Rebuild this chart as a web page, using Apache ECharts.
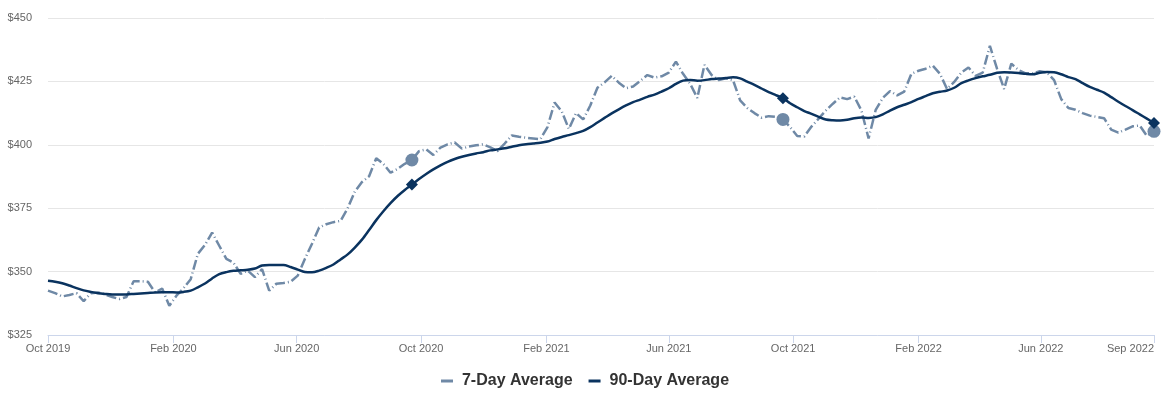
<!DOCTYPE html>
<html>
<head>
<meta charset="utf-8">
<script src="https://cdn.jsdelivr.net/npm/echarts@6/dist/echarts.min.js"></script>
<style>
  html, body { margin: 0; padding: 0; background: #fff; }
  #chart { width: 1170px; height: 397px; }
</style>
</head>
<body>
<div id="chart"></div>
<script>
// weekly readings, first week starts Oct 1 2019
const startDate = [2019, 9, 1];

const avg7 = [
  342.5, 341.5, 340.2, 340.8, 341.5, 338.3, 341.5, 341.8, 341, 340,
  339.2, 340, 346.2, 346.2, 346, 341.8, 343.3, 336.5, 340.5, 343.5,
  347, 357, 360.5, 365.4, 360.2, 355, 353.5, 349.1, 350.4, 347.8,
  351, 342.5, 345.2, 345.5, 346, 348.4, 355, 361, 367.4, 368.7,
  369.5, 370, 375, 381.5, 385.3, 387.6, 394.7, 392.5, 389, 390.5,
  392.5, 394, 397.5, 398.2, 396, 398.9, 400.2, 400.9, 398.5, 399.3,
  399.8, 400.2, 399, 397.5, 400.5, 403.7, 403.2, 402.8, 402.5, 402.2,
  407, 416.7, 413.2, 406.2, 412.5, 410, 415.5, 422.5, 424.6, 427.2,
  424.5, 422.3, 423, 425.2, 427.5, 426.5, 427, 428.5, 432.8, 428,
  424, 418.5, 431.5, 427.5, 425.5, 426.2, 425.5, 417.5, 414.5, 412.5,
  410.7, 411.3, 411, 410, 407, 403.5, 403.3, 407.2, 410.3, 413.5,
  416.2, 418.7, 418, 419, 413.5, 402.5, 413.8, 418.5, 421.2, 419.5,
  421, 428, 429.2, 430, 431.2, 428, 422, 424.8, 428.5, 430.5,
  427.2, 428.5, 439, 430, 422, 432, 429.5, 428.2, 428.2, 429,
  428.5, 425.5, 418, 414.5, 413.8, 412.5, 411.5, 411, 410.5, 406,
  404.8, 406, 407.3, 407.6, 403.5, 405.3
];

const avg90 = [
  346.4, 346, 345.4, 344.5, 343.5, 342.6, 342, 341.5, 341.2, 341,
  341, 341, 341.2, 341.4, 341.6, 341.8, 341.9, 341.9, 341.8, 342,
  342.5, 343.8, 345.3, 347.3, 349, 349.8, 350.3, 350.5, 350.7, 351.2,
  352.4, 352.6, 352.6, 352.6, 351.8, 350.8, 349.8, 349.7, 350.4, 351.5,
  352.8, 354.8, 356.8, 359.5, 362.6, 366.4, 370.3, 373.8, 377, 379.8,
  382.2, 384.3, 386.5, 388.5, 390.3, 391.9, 393.3, 394.4, 395.3, 396,
  396.6, 397.1, 397.8, 398.2, 398.6, 399.2, 399.8, 400.2, 400.5, 400.8,
  401.3, 402.3, 403.1, 403.8, 404.6, 405.5, 407, 408.8, 410.6, 412.4,
  414, 415.5, 416.8, 417.8, 418.9, 419.8, 421, 422.3, 424, 425.3,
  425.6, 425.3, 425.5, 425.9, 426.1, 426.3, 426.6, 426.2, 424.9, 423.6,
  422.2, 420.8, 419.6, 418.4, 416.4, 414.8, 413.3, 412.2, 411, 410,
  409.7, 409.6, 409.9, 410.5, 410.8, 410.6, 410.9, 412, 413.5, 414.8,
  415.8, 416.8, 418.1, 419.2, 420.3, 420.9, 421.4, 422.5, 424.3, 425.4,
  426.3, 427, 427.6, 428.4, 428.6, 428.5, 428.3, 428, 427.8, 428.4,
  428.7, 428.6, 427.8, 426.7, 425.9, 424.3, 422.8, 421.7, 420.6, 418.8,
  417, 415.3, 413.7, 412, 410.3, 408.6
];

// same week in each year gets a marker
const markerWeeks = [51, 103, 155];

const tickLabels = ['Oct 2019', 'Feb 2020', 'Jun 2020', 'Oct 2020', 'Feb 2021',
  'Jun 2021', 'Oct 2021', 'Feb 2022', 'Jun 2022', 'Sep 2022'];
const tickDates = [[2019, 9, 1], [2020, 1, 1], [2020, 5, 1], [2020, 9, 1], [2021, 1, 1],
  [2021, 5, 1], [2021, 9, 1], [2022, 1, 1], [2022, 5, 1], null];

const weeks = avg7.map((v, i) => new Date(startDate[0], startDate[1], startDate[2] + i * 7).getTime());
const lastWeek = weeks[weeks.length - 1];
const tickValues = tickDates.map(d => d ? new Date(d[0], d[1], d[2]).getTime() : lastWeek);

const lightColor = '#6f89a6';
const darkColor = '#0a335f';

const labelFor = (value) => {
  const idx = tickValues.indexOf(value);
  return idx >= 0 ? tickLabels[idx] : '';
};

const getOption = () => {
  return {
    animation: false,
    grid: { left: 48, right: 16, top: 18, bottom: 62 },
    legend: {
      top: 368,
      left: 'center',
      itemWidth: 12,
      itemHeight: 3,
      itemGap: 16,
      icon: 'rect',
      data: ['7-Day Average', '90-Day Average'],
      textStyle: {
        fontFamily: 'Liberation Sans, Arial, sans-serif',
        fontSize: 16,
        fontWeight: 'bold',
        color: '#333',
        padding: [0, 0, 0, 4]
      }
    },
    xAxis: {
      type: 'value',
      min: weeks[0],
      max: lastWeek,
      axisLine: { lineStyle: { color: '#ccd6eb', width: 1 } },
      axisTick: { show: true, length: 8, lineStyle: { color: '#ccd6eb' }, customValues: tickValues },
      splitLine: { show: false },
      axisLabel: {
        customValues: tickValues,
        formatter: labelFor,
        color: '#666',
        fontSize: 11,
        fontFamily: 'Liberation Sans, Arial, sans-serif',
        margin: 8,
        alignMaxLabel: 'right',
        hideOverlap: false
      }
    },
    yAxis: {
      type: 'value',
      min: 325,
      max: 450,
      interval: 25,
      axisLine: { show: false },
      axisTick: { show: false },
      splitLine: { lineStyle: { color: '#e6e6e6' } },
      axisLabel: {
        formatter: v => '$' + v,
        color: '#666',
        fontSize: 11,
        fontFamily: 'Liberation Sans, Arial, sans-serif',
        margin: 16
      }
    },
    series: [
      {
        name: '7-Day Average',
        type: 'line',
        data: avg7.map((v, i) => [weeks[i], v]),
        symbol: 'none',
        itemStyle: { color: lightColor },
        lineStyle: { color: lightColor, width: 2.5, type: [10, 3, 1, 3] },
        z: 2
      },
      {
        name: '90-Day Average',
        type: 'line',
        data: avg90.map((v, i) => [weeks[i], v]),
        symbol: 'none',
        smooth: 0.3,
        itemStyle: { color: darkColor },
        lineStyle: { color: darkColor, width: 2.5 },
        z: 3
      },
      {
        name: '7-Day Marker',
        type: 'scatter',
        data: markerWeeks.map(i => [weeks[i], avg7[i]]),
        symbol: 'circle',
        symbolSize: 13,
        itemStyle: { color: lightColor, opacity: 1 },
        z: 4
      },
      {
        name: '90-Day Marker',
        type: 'scatter',
        data: markerWeeks.map(i => [weeks[i], avg90[i]]),
        symbol: 'diamond',
        symbolSize: 12,
        itemStyle: { color: darkColor, opacity: 1 },
        z: 5
      }
    ]
  };
};

const chart = echarts.init(document.getElementById('chart'));
chart.setOption(getOption());
</script>
</body>
</html>
